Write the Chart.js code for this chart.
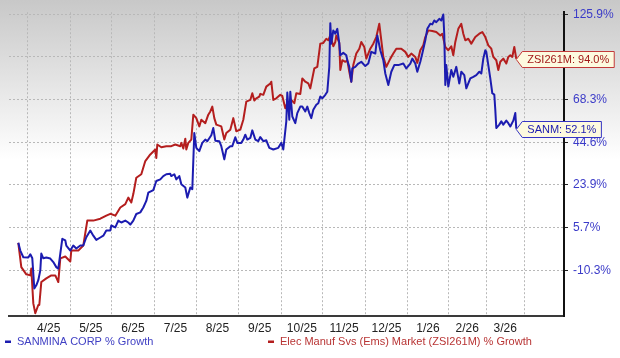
<!DOCTYPE html>
<html><head><meta charset="utf-8">
<script src="https://cdn.jsdelivr.net/npm/chart.js@4.4.1/dist/chart.umd.min.js"></script>
<style>
html,body{margin:0;padding:0;}
body{width:620px;height:358px;overflow:hidden;background:linear-gradient(to bottom,#c8c8c8 0px,#ffffff 160px,#ffffff 358px);}
canvas{display:block;}
</style></head><body>
<canvas id="c" width="620" height="358"></canvas>
<script>
// ---- data (trading-session index vs % growth) ----
const sanmDays = [0,1,2.5,5,6,7,8,9,10,11,11.5,12.5,14,16,17.5,19,20,21,22,23.5,24,26,27.5,29,31,32.5,34,36,37.5,39,41,42.5,44,46,46.5,48.5,50,51.5,53.5,55,56,57.5,59,61,62.5,64,65,67.5,69,71,72.5,74,76,76.5,78,79,80.5,81.5,83.5,84.5,86,87,88,89,90.5,92,93.5,94.5,96.5,97.5,98.5,100.5,101.5,103,104,106,107,108.5,109.5,111.5,112.5,113.5,114.5,116,117,118.5,120,121,122.5,124,125.5,127.5,130,131.5,132.5,134,134.5,135.5,136,137,138.5,139.5,141,142,143.5,144.5,145.5,146.5,147.5,149,150,151,152,153.5,154.5,155.5,156,156.5,157.5,158.5,159.5,160.5,161,162.5,164,164.5,165.5,166.5,167,168.5,170,171.5,173.5,175,176.5,178.5,179.5,181,182.5,183.5,185,186.5,188,190,192.5,194,196,197,198.5,199.5,201,202,203.5,204.5,206,207,208,209,210.5,211.5,212.5,213,213.5,214,215,216.5,217.5,219,220.5,221.5,223,224,226,227.5,229,230.5,231.5,232.5,233.5,234,235,236,237,238,238.5,239,240.5,241.5,242.5,244,245,246,247.5,248.5,249];
const sanmGrowth = [0.0,-2.9,-5.4,-5.5,-4.3,-5.8,-17.1,-15.9,-14.0,-10.3,-4.0,-5.8,-5.5,-5.9,-7.2,-9.1,-9.7,-4.0,1.5,0.9,-1.0,-2.9,-1.0,-2.1,-1.0,-1.0,2.1,4.6,2.7,1.1,2.0,2.7,4.6,4.6,6.6,5.8,8.7,7.9,8.7,7.9,7.0,8.7,11.5,12.2,14.3,17.1,20.6,21.7,25.8,26.6,28.2,29.1,29.3,28.2,29.1,26.6,28.2,24.2,22.8,18.5,22.8,22.1,49.7,41.9,40.3,44.3,46.1,45.2,48.5,52.5,45.5,45.2,42.7,36.3,41.1,42.7,42.7,47.4,44.3,44.3,46.1,48.8,46.1,47.0,51.2,46.1,45.2,47.5,45.2,45.7,41.9,41.1,41.9,44.3,41.1,56.2,72.7,57.1,73.3,58.9,55.2,60.8,64.4,64.4,61.7,64.4,60.8,58.0,62.6,65.4,66.3,70.2,69.1,71.3,73.3,89.0,119.5,104.8,114.3,111.9,115.4,104.8,96.5,98.2,96.5,93.2,89.0,79.6,88.0,89.0,91.1,92.2,89.5,91.1,98.9,97.7,110.7,100.1,93.2,84.8,77.5,85.9,90.1,90.1,91.1,88.0,91.1,94.2,91.1,85.9,92.2,97.7,107.2,115.4,119.0,118.6,121.4,120.2,122.6,121.4,125.7,110.7,77.5,90.1,76.5,87.0,82.7,89.0,78.5,85.9,83.8,75.4,81.7,82.7,83.8,85.9,84.8,94.2,100.1,98.9,90.1,81.7,72.3,71.4,62.6,52.5,54.4,56.2,54.4,56.6,55.2,53.4,56.6,60.8,52.1];
const zsiDays = [0,1.5,4,6,6.5,7.5,8.5,10,10.5,11.5,14,16.5,18.5,20,21,23.5,26,26.5,30,32.5,34.5,37.5,41,44,46,48.5,51,53.5,55,56.5,57.5,59,61.5,63.5,66,68.5,69,69.5,71.5,74,76.5,78.5,81,81.5,82.5,83.5,84,85,86.5,87.5,89,90.5,91.5,93.5,95,96,97,98,99,101.5,103,104,106,107.5,109,111,112.5,114,116,117,118,119,120.5,121,122.5,124,126,126.5,127.5,129,131,132,133.5,134.5,136,136.5,138,139,141,142,143.5,145,146,148,149.5,151,152.5,154,155,156,157.5,158.5,159,160.5,161,162,163.5,164.5,165.5,166.5,167.5,169,170.5,171.5,173,174,176,177.5,179,180.5,181.5,182.5,184,186,187.5,189,191.5,193.5,195,196.5,198.5,199.5,201,202.5,203.5,205,207,209,211,212,213.5,215,216.5,217.5,218.5,220,221.5,222.5,223.5,225,226.5,228.5,230.5,232,233.5,235,236.5,237.5,239,240,241,242.5,244,245,246,247,248,249];
const zsiGrowth = [0.0,-9.1,-11.8,-12.2,-9.6,-22.7,-26.4,-23.3,-23.3,-14.7,-13.3,-12.2,-12.2,-14.7,-5.8,-5.1,-7.0,-2.9,-2.9,-1.0,8.7,8.7,9.5,10.8,11.6,10.8,14.3,15.7,18.5,16.4,20.0,27.4,29.1,35.5,38.7,41.1,37.0,43.5,42.2,42.7,42.7,43.5,42.7,44.3,41.6,46.6,41.1,44.3,46.1,59.9,58.0,53.4,57.1,55.2,59.9,61.7,64.4,58.0,54.4,53.4,46.1,49.7,51.6,58.0,50.7,51.6,57.1,67.2,68.1,72.3,67.8,69.1,70.2,71.9,71.3,76.5,78.5,79.6,68.1,69.1,71.3,70.6,63.5,66.3,64.4,68.1,66.3,72.3,71.9,81.7,79.6,78.5,75.4,88.0,89.0,104.8,105.3,108.3,107.2,110.7,102.9,106.0,110.7,105.3,87.0,93.2,92.2,93.2,85.9,79.6,90.1,97.7,101.2,106.0,102.4,94.2,101.2,104.8,109.5,119.0,107.2,95.3,89.0,94.2,97.7,101.2,101.2,98.9,95.3,97.7,95.3,91.5,100.1,103.6,109.5,114.3,113.8,113.1,110.7,111.9,102.4,100.1,102.9,96.5,106.0,115.4,119.0,111.9,107.2,108.3,104.8,109.5,111.9,113.1,109.5,103.6,101.2,95.3,93.2,87.0,92.2,94.2,91.1,95.3,96.5,95.3,102.4,94.0];
const monthLabels = ['4/25','5/25','6/25','7/25','8/25','9/25','10/25','11/25','12/25','1/26','2/26','3/26'];
const monthGridDays = [4.5,25.85,46.7,68,89.2,110,131.35,152.2,173.5,194.7,215,233.85,253];
const yTickValues = [-10.3,5.7,23.9,44.6,68.3,95.3,125.9];
const yTickLabels = ['-10.3%','5.7%','23.9%','44.6%','68.3%','','125.9%'];
const seriesNames = ['SANMINA CORP % Growth','Elec Manuf Svs (Ems) Market (ZSI261M) % Growth'];
const tagNames = ['SANM','ZSI261M'];

const FONT = '"Liberation Sans", Arial, sans-serif';
const BLUE = '#1c1cb0', RED = '#b41e1e';
const seriesGrowth = [sanmGrowth, zsiGrowth];

// the source axis spaces its labelled levels evenly: map % growth onto that grid
function toAxis(v){
  const t = yTickValues, n = t.length;
  if (v <= t[0]) return (v - t[0]) / (t[1] - t[0]);
  if (v >= t[n-1]) return n - 1 + (v - t[n-1]) / (t[n-1] - t[n-2]);
  for (let i = 0; i < n - 1; i++) if (v <= t[i+1]) return i + (v - t[i]) / (t[i+1] - t[i]);
}

const gridSet = new Set(monthGridDays);
const midTicks = monthLabels.map((l, i) => (monthGridDays[i] + monthGridDays[i+1]) / 2);

const tagPlugin = {
  id: 'tags',
  afterDraw(chart){
    const ctx = chart.ctx;
    ctx.save();
    ctx.font = '11px ' + FONT;
    ctx.textBaseline = 'middle';
    // legend
    const legendPos = [5, 268];
    const legendCol = [[BLUE, '#4141c4'], [RED, '#b83434']];
    seriesNames.forEach((name, i) => {
      ctx.fillStyle = legendCol[i][0];
      ctx.fillRect(legendPos[i], 340.5, 6, 2.5);
      ctx.fillStyle = legendCol[i][1];
      ctx.fillText(name, legendPos[i] + 12, 342);
    });
    // end-value tags
    const tagCol = [['#3535c4', '#1c1cb0'], ['#c23a3a', '#a01818']];
    [1, 0].forEach(i => {
      const meta = chart.getDatasetMeta(i);
      const pt = meta.data[meta.data.length - 1];
      const g = seriesGrowth[i];
      const text = tagNames[i] + ': ' + g[g.length - 1].toFixed(1) + '%';
      const w = ctx.measureText(text).width;
      const tip = pt.x, cy = Math.round(pt.y) + 0.5, h = 16;
      const bl = tip + 6, br = bl + 5 + w + 5;
      ctx.beginPath();
      ctx.moveTo(tip, cy);
      ctx.lineTo(bl, cy - h/2);
      ctx.lineTo(br, cy - h/2);
      ctx.lineTo(br, cy + h/2);
      ctx.lineTo(bl, cy + h/2);
      ctx.closePath();
      ctx.fillStyle = '#fdfadf';
      ctx.fill();
      ctx.lineWidth = 1;
      ctx.strokeStyle = tagCol[i][0];
      ctx.stroke();
      ctx.fillStyle = tagCol[i][1];
      ctx.fillText(text, bl + 5, cy + 0.5);
    });
    ctx.restore();
  }
};

new Chart(document.getElementById('c'), {
  type: 'line',
  data: {
    datasets: [
      { label: seriesNames[0], data: sanmDays.map((d, i) => ({x: d, y: toAxis(sanmGrowth[i])})),
        borderColor: BLUE, borderWidth: 2, pointRadius: 0, tension: 0, borderJoinStyle: 'round', fill: false },
      { label: seriesNames[1], data: zsiDays.map((d, i) => ({x: d, y: toAxis(zsiGrowth[i])})),
        borderColor: RED, borderWidth: 2, pointRadius: 0, tension: 0, borderJoinStyle: 'round', fill: false }
    ]
  },
  options: {
    responsive: false, animation: false, devicePixelRatio: 1,
    layout: { padding: { left: 9, top: 10, right: 0, bottom: 0 } },
    plugins: { legend: { display: false }, tooltip: { enabled: false }, title: { display: false } },
    scales: {
      x: {
        type: 'linear', min: -4.65, max: 272.85,
        afterBuildTicks: s => {
          s.ticks = monthGridDays.concat(midTicks).sort((a, b) => a - b).map(v => ({value: v}));
        },
        afterFit: s => { s.height = 42; },
        grid: {
          drawTicks: false, lineWidth: 1, borderDash: [2, 2],
          color: c => (c.tick && gridSet.has(c.tick.value)) ? '#b8b8b8' : 'rgba(0,0,0,0)'
        },
        border: { display: true, color: '#3a3a3a', width: 2, dash: [2, 2] },
        ticks: {
          autoSkip: false, maxRotation: 0, padding: 5, color: '#222',
          font: { family: FONT, size: 12 },
          callback: v => { const k = midTicks.indexOf(v); return k >= 0 ? monthLabels[k] : ''; }
        }
      },
      y: {
        type: 'linear', position: 'right', min: -1.07, max: 6.047,
        afterBuildTicks: s => { s.ticks = yTickValues.map((v, i) => ({value: i})); },
        afterFit: s => { s.width = 56; },
        grid: { color: '#b8b8b8', lineWidth: 1, borderDash: [2, 2], drawTicks: true, tickLength: 4, tickColor: '#222', tickWidth: 1, tickBorderDash: [] },
        border: { display: true, color: '#111', width: 2, dash: [2, 2] },
        ticks: {
          autoSkip: false, padding: 5, color: '#3b3bc8',
          font: { family: FONT, size: 12 },
          callback: (v, i) => yTickLabels[i]
        }
      }
    }
  },
  plugins: [tagPlugin]
});
</script>
</body></html>
